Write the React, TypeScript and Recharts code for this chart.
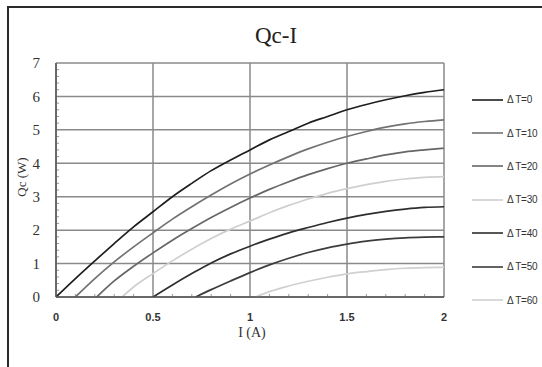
import { LineChart, Line, XAxis, YAxis, CartesianGrid, ReferenceLine } from "recharts";

const xTicks = [0, 0.5, 1, 1.5, 2];
const yTicks = [0, 1, 2, 3, 4, 5, 6, 7];
const xMinor = [0.1, 0.2, 0.3, 0.4, 0.6, 0.7, 0.8, 0.9, 1.1, 1.2, 1.3, 1.4, 1.6, 1.7, 1.8, 1.9];
const yMinor = [0.2, 0.4, 0.6, 0.8, 1.2, 1.4, 1.6, 1.8, 2.2, 2.4, 2.6, 2.8, 3.2, 3.4, 3.6, 3.8, 4.2, 4.4, 4.6, 4.8, 5.2, 5.4, 5.6, 5.8, 6.2, 6.4, 6.6, 6.8];

const dt0 = [
  { i: 0, q: 0 }, { i: 0.1, q: 0.55 }, { i: 0.2, q: 1.08 }, { i: 0.3, q: 1.6 },
  { i: 0.4, q: 2.1 }, { i: 0.5, q: 2.55 }, { i: 0.6, q: 3.0 }, { i: 0.7, q: 3.4 },
  { i: 0.8, q: 3.78 }, { i: 0.9, q: 4.1 }, { i: 1.0, q: 4.4 }, { i: 1.1, q: 4.7 },
  { i: 1.2, q: 4.95 }, { i: 1.3, q: 5.2 }, { i: 1.4, q: 5.4 }, { i: 1.5, q: 5.6 },
  { i: 1.6, q: 5.76 }, { i: 1.7, q: 5.9 }, { i: 1.8, q: 6.02 }, { i: 1.9, q: 6.12 },
  { i: 2.0, q: 6.2 },
];
const dt10 = [
  { i: 0.1, q: 0 }, { i: 0.2, q: 0.55 }, { i: 0.3, q: 1.05 }, { i: 0.4, q: 1.5 },
  { i: 0.5, q: 1.92 }, { i: 0.6, q: 2.33 }, { i: 0.7, q: 2.7 }, { i: 0.8, q: 3.05 },
  { i: 0.9, q: 3.38 }, { i: 1.0, q: 3.68 }, { i: 1.1, q: 3.95 }, { i: 1.2, q: 4.2 },
  { i: 1.3, q: 4.43 }, { i: 1.4, q: 4.63 }, { i: 1.5, q: 4.8 }, { i: 1.6, q: 4.95 },
  { i: 1.7, q: 5.08 }, { i: 1.8, q: 5.18 }, { i: 1.9, q: 5.25 }, { i: 2.0, q: 5.3 },
];
const dt20 = [
  { i: 0.21, q: 0 }, { i: 0.3, q: 0.48 }, { i: 0.4, q: 0.92 }, { i: 0.5, q: 1.32 },
  { i: 0.6, q: 1.7 }, { i: 0.7, q: 2.05 }, { i: 0.8, q: 2.38 }, { i: 0.9, q: 2.68 },
  { i: 1.0, q: 2.96 }, { i: 1.1, q: 3.22 }, { i: 1.2, q: 3.45 }, { i: 1.3, q: 3.66 },
  { i: 1.4, q: 3.84 }, { i: 1.5, q: 4.0 }, { i: 1.6, q: 4.13 }, { i: 1.7, q: 4.25 },
  { i: 1.8, q: 4.34 }, { i: 1.9, q: 4.4 }, { i: 2.0, q: 4.45 },
];
const dt30 = [
  { i: 0.34, q: 0 }, { i: 0.4, q: 0.3 }, { i: 0.5, q: 0.7 }, { i: 0.6, q: 1.08 },
  { i: 0.7, q: 1.43 }, { i: 0.8, q: 1.75 }, { i: 0.9, q: 2.03 }, { i: 1.0, q: 2.27 },
  { i: 1.1, q: 2.52 }, { i: 1.2, q: 2.74 }, { i: 1.3, q: 2.93 }, { i: 1.4, q: 3.1 },
  { i: 1.5, q: 3.24 }, { i: 1.6, q: 3.36 }, { i: 1.7, q: 3.46 }, { i: 1.8, q: 3.53 },
  { i: 1.9, q: 3.58 }, { i: 2.0, q: 3.6 },
];
const dt40 = [
  { i: 0.5, q: 0 }, { i: 0.6, q: 0.36 }, { i: 0.7, q: 0.7 }, { i: 0.8, q: 1.02 },
  { i: 0.9, q: 1.29 }, { i: 1.0, q: 1.52 }, { i: 1.1, q: 1.73 }, { i: 1.2, q: 1.92 },
  { i: 1.3, q: 2.08 }, { i: 1.4, q: 2.23 }, { i: 1.5, q: 2.36 }, { i: 1.6, q: 2.47 },
  { i: 1.7, q: 2.56 }, { i: 1.8, q: 2.63 }, { i: 1.9, q: 2.68 }, { i: 2.0, q: 2.7 },
];
const dt50 = [
  { i: 0.72, q: 0 }, { i: 0.8, q: 0.22 }, { i: 0.9, q: 0.48 }, { i: 1.0, q: 0.73 },
  { i: 1.1, q: 0.96 }, { i: 1.2, q: 1.16 }, { i: 1.3, q: 1.33 }, { i: 1.4, q: 1.47 },
  { i: 1.5, q: 1.58 }, { i: 1.6, q: 1.67 }, { i: 1.7, q: 1.73 }, { i: 1.8, q: 1.77 },
  { i: 1.9, q: 1.79 }, { i: 2.0, q: 1.8 },
];
const dt60 = [
  { i: 1.03, q: 0 }, { i: 1.1, q: 0.16 }, { i: 1.2, q: 0.33 }, { i: 1.3, q: 0.47 },
  { i: 1.4, q: 0.59 }, { i: 1.5, q: 0.69 }, { i: 1.6, q: 0.76 }, { i: 1.7, q: 0.82 },
  { i: 1.8, q: 0.86 }, { i: 1.9, q: 0.88 }, { i: 2.0, q: 0.89 },
];

const series = [
  { name: "\u0394 T=0", data: dt0, color: "#1e1e1e" },
  { name: "\u0394 T=10", data: dt10, color: "#727272" },
  { name: "\u0394 T=20", data: dt20, color: "#666666" },
  { name: "\u0394 T=30", data: dt30, color: "#cfcfcf" },
  { name: "\u0394 T=40", data: dt40, color: "#2e2e2e" },
  { name: "\u0394 T=50", data: dt50, color: "#3c3c3c" },
  { name: "\u0394 T=60", data: dt60, color: "#d0d0d0" },
];

const serif = "Liberation Serif, Times New Roman, serif";
const sans = "Liberation Sans, Arial, sans-serif";

function LegendBox() {
  return (
    <div style={{ position: "absolute", left: 472, top: 83 }}>
      {series.map((s) => (
        <div key={s.name} style={{ display: "flex", alignItems: "center", height: 33.4 }}>
          <svg width={31} height={4}>
            <line x1={0} y1={2} x2={31} y2={2} stroke={s.color} strokeWidth={1.6} />
          </svg>
          <span style={{ fontFamily: sans, fontSize: 10, color: "#333", marginLeft: 4, letterSpacing: -0.3 }}>
            {s.name}
          </span>
        </div>
      ))}
    </div>
  );
}

export default function App() {
  return (
    <div style={{ position: "absolute", left: 0, top: 0, width: 542, height: 367, background: "#fff", overflow: "hidden" }}>
      <div style={{ position: "absolute", left: 7, top: 6, width: 560, height: 400, borderLeft: "2px solid #2b2b2b", borderTop: "2px solid #2b2b2b" }} />
      <LineChart width={542} height={367} margin={{ top: 63, right: 98, bottom: 40, left: 0 }}>
        <CartesianGrid stroke="#8a8a8a" strokeWidth={1.5} />
        <XAxis
          dataKey="i"
          type="number"
          domain={[0, 2]}
          ticks={xTicks}
          allowDataOverflow
          height={30}
          tickLine={false}
          tickMargin={10}
          axisLine={{ stroke: "#555", strokeWidth: 1.5 }}
          tick={{ fill: "#333", fontSize: 11, fontWeight: "bold", fontFamily: sans }}
          tickFormatter={(v: number) => String(v)}
        />
        <YAxis
          type="number"
          domain={[0, 7]}
          ticks={yTicks}
          allowDataOverflow
          width={56}
          tickLine={false}
          tickMargin={10}
          axisLine={{ stroke: "#555", strokeWidth: 1.5 }}
          tick={{ fill: "#333", fontSize: 15, fontFamily: serif }}
        />
        {xMinor.map((t) => (
          <ReferenceLine
            key={"xm" + t}
            segment={[{ x: t, y: 0 }, { x: t, y: 0.09 }]}
            stroke="#999"
            strokeWidth={1}
            ifOverflow="visible"
          />
        ))}
        {yMinor.map((t) => (
          <ReferenceLine
            key={"ym" + t}
            segment={[{ x: 0, y: t }, { x: 0.016, y: t }]}
            stroke="#999"
            strokeWidth={1}
            ifOverflow="visible"
          />
        ))}
        {series.map((s) => (
          <Line
            key={s.name}
            data={s.data}
            dataKey="q"
            name={s.name}
            type="monotone"
            stroke={s.color}
            strokeWidth={1.7}
            dot={false}
            isAnimationActive={false}
          />
        ))}
      </LineChart>
      <div style={{ position: "absolute", left: 0, width: 552, top: 23, textAlign: "center", fontFamily: serif, fontSize: 23, color: "#222" }}>
        Qc-I
      </div>
      <div style={{ position: "absolute", left: 225, width: 54, top: 325, textAlign: "center", fontFamily: serif, fontSize: 14, color: "#333" }}>
        I (A)
      </div>
      <div style={{ position: "absolute", left: 22, top: 177, width: 0, height: 0 }}>
        <div style={{ position: "absolute", left: -30, top: -8, width: 60, textAlign: "center", transform: "rotate(-90deg)", fontFamily: serif, fontSize: 13, color: "#333", whiteSpace: "nowrap" }}>
          Qc (W)
        </div>
      </div>
      <LegendBox />
    </div>
  );
}
